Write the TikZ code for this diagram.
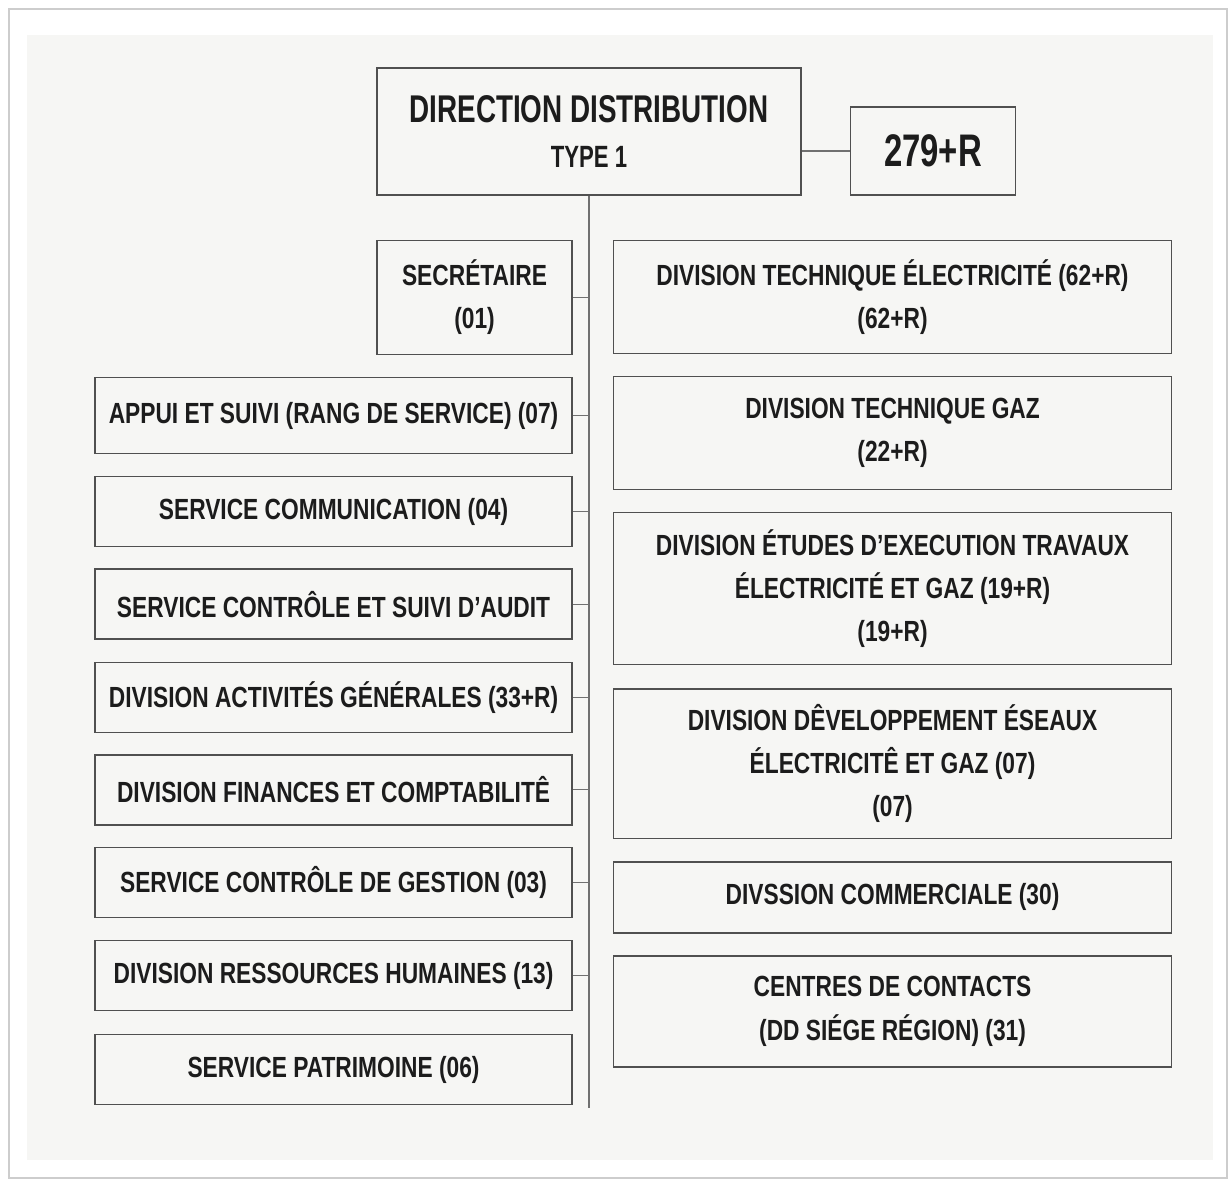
\documentclass[tikz,border=0pt]{standalone}
\usepackage{fontspec}
\setmainfont{Liberation Sans}[FakeStretch=0.78]
\newfontfamily\headfont{Liberation Sans}[FakeStretch=0.72]
\usetikzlibrary{positioning}

\definecolor{boxgray}{HTML}{505050}
\definecolor{linkgray}{HTML}{707070}
\definecolor{inkgray}{HTML}{1C1C1C}
\definecolor{panelfill}{HTML}{F6F6F4}
\definecolor{frameedge}{HTML}{CDCDCD}

\begin{document}
\begin{tikzpicture}[
    x=0.02cm, y=-0.02cm,
    every node/.style={font=\bfseries\fontsize{16.6}{24.5}\selectfont, text=inkgray},
    unit/.style={
        rectangle,
        draw=boxgray,
        line width=0.9pt,
        align=center,
        inner sep=2pt
    },
    leftunit/.style={
        unit,
        minimum width=9.54cm,
        minimum height=1.40cm
    },
    rightunit/.style={
        unit,
        minimum width=11.16cm
    },
    link/.style={
        draw=linkgray,
        line width=0.7pt
    }
]

% --- page and panel ---
\fill [white] (0,0) rectangle (1229,1181);
\draw [frameedge, line width=0.8pt] (9,9) rectangle (1227,1178);
\fill [panelfill] (27,35) rectangle (1213,1160);
\useasboundingbox (0,0) rectangle (1229,1181);

% --- head nodes ---
\node (dir) [unit, minimum width=8.48cm, minimum height=2.54cm, font=\headfont\bfseries\fontsize{22}{25.6}\selectfont] at (589,131.5) {DIRECTION DISTRIBUTION\\{\fontsize{17.5}{20}\selectfont TYPE 1}};
\node (total) [unit, minimum width=3.3cm, minimum height=1.76cm, font=\headfont\bfseries\fontsize{26}{30}\selectfont, right=0.96cm of dir.south east, anchor=south west] {279+R};
\node (secr) [unit, minimum width=3.9cm, minimum height=2.28cm, below=0.88cm of dir.south west, anchor=north west] {SECRÉTAIRE\\(01)};

% --- left column ---
\node (appui) [leftunit, minimum height=1.52cm, below=0.43cm of secr.south east, anchor=north east] {APPUI ET SUIVI (RANG DE SERVICE) (07)};
\node (comm) [leftunit, below=0.43cm of appui] {SERVICE COMMUNICATION (04)};
\node (audit) [leftunit, below=0.42cm of comm] {SERVICE CONTRÔLE ET SUIVI D’AUDIT};
\node (activ) [leftunit, below=0.43cm of audit] {DIVISION ACTIVITÉS GÉNÉRALES (33+R)};
\node (fin) [leftunit, below=0.42cm of activ] {DIVISION FINANCES ET COMPTABILITÊ};
\node (gest) [leftunit, below=0.42cm of fin] {SERVICE CONTRÔLE DE GESTION (03)};
\node (rh) [leftunit, below=0.43cm of gest] {DIVISION RESSOURCES HUMAINES (13)};
\node (patr) [leftunit, below=0.45cm of rh] {SERVICE PATRIMOINE (06)};

% --- right column ---
\node (elec) [rightunit, minimum height=2.26cm, right=0.8cm of secr.north east, anchor=north west] {DIVISION TECHNIQUE ÉLECTRICITÉ (62+R)\\(62+R)};
\node (gaz) [rightunit, minimum height=2.26cm, below=0.43cm of elec] {DIVISION TECHNIQUE GAZ\\(22+R)};
\node (etud) [rightunit, minimum height=3.04cm, below=0.43cm of gaz] {DIVISION ÉTUDES D’EXECUTION TRAVAUX\\ÉLECTRICITÉ ET GAZ (19+R)\\(19+R)};
\node (dev) [rightunit, minimum height=3.0cm, below=0.45cm of etud] {DIVISION DÊVELOPPEMENT ÉSEAUX\\ÉLECTRICITÊ ET GAZ (07)\\(07)};
\node (vente) [rightunit, minimum height=1.42cm, below=0.43cm of dev] {DIVSSION COMMERCIALE (30)};
\node (contact) [rightunit, minimum height=2.22cm, below=0.43cm of vente] {CENTRES DE CONTACTS\\(DD SIÉGE RÉGION) (31)};

% --- links ---
\coordinate (trunkend) at ([yshift=-0.06cm]dir.south |- patr.south);
\draw [link] (dir.south) -- (trunkend);
\draw [link] (dir.east |- total.west) -- (total.west);
\draw [link] (secr.east) -- (secr.east -| dir.south);
\draw [link] (appui.east) -- (appui.east -| dir.south);
\draw [link] (comm.east) -- (comm.east -| dir.south);
\draw [link] (audit.east) -- (audit.east -| dir.south);
\draw [link] (activ.east) -- (activ.east -| dir.south);
\draw [link] (fin.east) -- (fin.east -| dir.south);
\draw [link] (gest.east) -- (gest.east -| dir.south);
\draw [link] (rh.east) -- (rh.east -| dir.south);

\end{tikzpicture}
\end{document}
